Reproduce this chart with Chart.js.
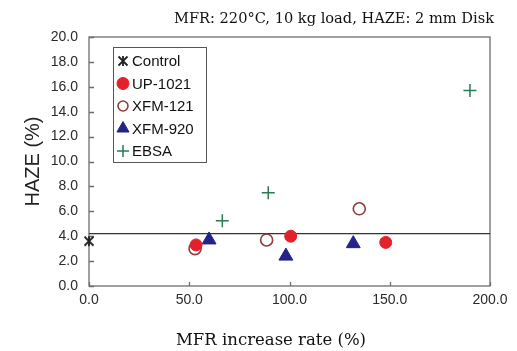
<!DOCTYPE html>
<html>
<head>
<meta charset="utf-8">
<script src="https://cdn.jsdelivr.net/npm/chart.js@4/dist/chart.umd.min.js"></script>
<style>
  html, body { margin: 0; padding: 0; background: #fff; }
  #wrap { width: 517px; height: 351px; position: relative; }
</style>
</head>
<body>
<div id="wrap"><canvas id="hazeChart" width="517" height="351"></canvas></div>
<script>
// values
const controlX = [0];
const controlY = [3.6];
const up1021X = [53.4, 100.6, 148];
const up1021Y = [3.3, 4.0, 3.5];
const xfm121X = [52.9, 88.6, 134.8];
const xfm121Y = [3.0, 3.7, 6.2];
const xfm920X = [59.9, 98.2, 131.8];
const xfm920Y = [3.7, 2.4, 3.4];
const ebsaX = [66.5, 89.4, 190];
const ebsaY = [5.25, 7.5, 15.7];
const refLineX = [0, 200];
const refLineY = [4.2, 4.2];
const xTicks = [0, 50, 100, 150, 200];
const yTicks = [0, 2, 4, 6, 8, 10, 12, 14, 16, 18, 20];

const headerText = 'MFR: 220°C, 10 kg load, HAZE: 2 mm Disk';
const xTitle = 'MFR increase rate (%)';
const yTitle = 'HAZE (%)';

const sansFont = 'Arial, "Liberation Sans", sans-serif';
const serifFont = '"DejaVu Serif", serif';

function toPoints(xs, ys) {
    return xs.map((x, i) => ({ x: x, y: ys[i] }));
}

// asterisk-like marker for Control (X with a vertical stroke)
function makeStar(size) {
    const c = document.createElement('canvas');
    c.width = size;
    c.height = size;
    const g = c.getContext('2d');
    const m = 1.5, s = size - 1.5;
    g.strokeStyle = '#222';
    g.lineWidth = 1.8;
    g.beginPath();
    g.moveTo(m, m); g.lineTo(s, s);
    g.moveTo(s, m); g.lineTo(m, s);
    g.moveTo(size / 2, 1); g.lineTo(size / 2, size - 1);
    g.stroke();
    return c;
}
const starMarker = makeStar(12);
const starSmall = makeStar(12);

// header, frame, inner ticks, x title and the boxed legend
const decorPlugin = {
    id: 'decor',
    beforeDatasetsDraw(chart) {
        const { ctx, chartArea: a, scales } = chart;
        ctx.save();
        ctx.strokeStyle = '#6e6e6e';
        ctx.lineWidth = 1.3;
        ctx.strokeRect(a.left, a.top, a.right - a.left, a.bottom - a.top);
        ctx.beginPath();
        yTicks.forEach(v => {
            const py = Math.round(scales.y.getPixelForValue(v)) + 0.5;
            ctx.moveTo(a.left, py);
            ctx.lineTo(a.left + 5, py);
        });
        xTicks.forEach(v => {
            const px = Math.round(scales.x.getPixelForValue(v)) + 0.5;
            ctx.moveTo(px, a.bottom);
            ctx.lineTo(px, a.bottom - 4);
        });
        ctx.stroke();
        ctx.restore();
    },
    afterDraw(chart) {
        const { ctx } = chart;
        ctx.save();
        ctx.fillStyle = '#111';
        ctx.font = '14.6px ' + serifFont;
        ctx.textAlign = 'right';
        ctx.textBaseline = 'alphabetic';
        ctx.fillText(headerText, 494, 23);

        ctx.font = '16.5px ' + serifFont;
        ctx.textAlign = 'center';
        ctx.fillText(xTitle, 271, 345);

        // legend box
        const bx = 113, by = 47, bw = 93, bh = 115;
        ctx.fillStyle = '#fff';
        ctx.fillRect(bx, by, bw, bh);
        ctx.strokeStyle = '#555';
        ctx.lineWidth = 1;
        ctx.strokeRect(bx + 0.5, by + 0.5, bw, bh);

        ctx.font = '15px ' + sansFont;
        ctx.textAlign = 'left';
        ctx.textBaseline = 'middle';
        chart.data.datasets.forEach((ds, i) => {
            if (ds.legendSkip) return;
            const ly = 61 + i * 22.5;
            const st = ds.legendStyle || {};
            ctx.fillStyle = ds.backgroundColor;
            ctx.strokeStyle = ds.borderColor;
            ctx.lineWidth = ds.borderWidth;
            Chart.helpers.drawPoint(ctx, {
                pointStyle: st.pointStyle || ds.pointStyle,
                radius: st.radius || ds.pointRadius,
                borderWidth: ds.borderWidth,
                rotation: 0
            }, 123, ly);
            ctx.fillStyle = '#111';
            ctx.fillText(ds.label, 132, ly + 1);
        });
        ctx.restore();
    }
};

function styled(ds) {
    return Object.assign({ clip: false, showLine: false }, ds);
}

new Chart(document.getElementById('hazeChart'), {
    type: 'scatter',
    data: {
        datasets: [
            styled({
                label: 'Control', data: toPoints(controlX, controlY),
                pointStyle: starMarker, pointRadius: 6,
                borderColor: '#222', backgroundColor: '#222', borderWidth: 1.8,
                legendStyle: { pointStyle: starSmall }
            }),
            styled({
                label: 'UP-1021', data: toPoints(up1021X, up1021Y),
                pointStyle: 'circle', pointRadius: 6,
                backgroundColor: '#e3212b', borderColor: '#e3212b', borderWidth: 1
            }),
            styled({
                label: 'XFM-121', data: toPoints(xfm121X, xfm121Y),
                pointStyle: 'circle', pointRadius: 6,
                backgroundColor: 'rgba(255,255,255,0)', borderColor: '#8e3c3c', borderWidth: 1.6,
                legendStyle: { radius: 5 }
            }),
            styled({
                label: 'XFM-920', data: toPoints(xfm920X, xfm920Y),
                pointStyle: 'triangle', pointRadius: 8,
                backgroundColor: '#23238a', borderColor: '#23238a', borderWidth: 1,
                legendStyle: { radius: 7 }
            }),
            styled({
                label: 'EBSA', data: toPoints(ebsaX, ebsaY),
                pointStyle: 'cross', pointRadius: 6.5,
                backgroundColor: '#2a7a55', borderColor: '#2a7a55', borderWidth: 1.5,
                legendStyle: { radius: 6 }
            }),
            {
                label: 'ref', legendSkip: true,
                data: toPoints(refLineX, refLineY),
                showLine: true, pointRadius: 0,
                borderColor: '#333', borderWidth: 1.3, fill: false
            }
        ]
    },
    options: {
        responsive: false,
        animation: false,
        devicePixelRatio: 1,
        layout: { padding: { top: 37, right: 27, left: 0, bottom: 0 } },
        plugins: {
            legend: { display: false },
            tooltip: { enabled: false }
        },
        scales: {
            x: {
                type: 'linear', min: 0, max: 200,
                afterBuildTicks: s => { s.ticks = xTicks.map(v => ({ value: v })); },
                afterFit: s => { s.height = 65; },
                grid: { display: false, drawTicks: false },
                border: { display: false },
                ticks: {
                    padding: 6, color: '#2a2a2a', maxRotation: 0,
                    font: { family: sansFont, size: 14 },
                    callback: v => v.toFixed(1)
                }
            },
            y: {
                type: 'linear', min: 0, max: 20,
                afterBuildTicks: s => { s.ticks = yTicks.map(v => ({ value: v })); },
                afterFit: s => { s.width = 89; },
                grid: { display: false, drawTicks: false },
                border: { display: false },
                ticks: {
                    padding: 11, color: '#2a2a2a',
                    font: { family: sansFont, size: 14 },
                    callback: v => v.toFixed(1)
                },
                title: {
                    display: true, text: yTitle, color: '#222',
                    font: { family: sansFont, size: 20 },
                    padding: { top: 21, bottom: 0 }
                }
            }
        }
    },
    plugins: [decorPlugin]
});
</script>
</body>
</html>
